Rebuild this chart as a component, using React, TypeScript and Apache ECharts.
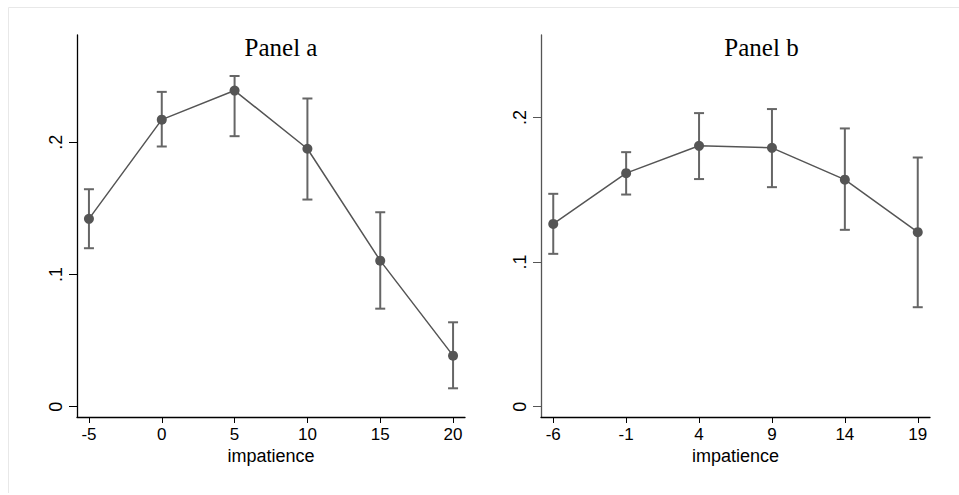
import React, { useEffect, useRef } from "react";
import * as echarts from "echarts";

// Panel a data
const xA = [-5, 0, 5, 10, 15, 20];
const meanA = [0.142, 0.217, 0.239, 0.195, 0.1104, 0.0386];
const loA = [0.1198, 0.1967, 0.2045, 0.1566, 0.0741, 0.0139];
const hiA = [0.1644, 0.238, 0.25, 0.233, 0.147, 0.0638];

// Panel b data
const xB = [-6, -1, 4, 9, 14, 19];
const meanB = [0.1264, 0.1615, 0.1804, 0.179, 0.157, 0.1207];
const loB = [0.1057, 0.1467, 0.1574, 0.1518, 0.1223, 0.0688];
const hiB = [0.1472, 0.176, 0.203, 0.2058, 0.1924, 0.1723];

const yTicks = [0, 0.1, 0.2];
const titles = ["Panel a", "Panel b"];
const xName = "impatience";

const LINE = "#555555";
const ERR = "#666666";
const SANS = "Liberation Sans";

function errRender(params: any, api: any) {
  const x = api.value(0);
  const lo = api.coord([x, api.value(1)]);
  const hi = api.coord([x, api.value(2)]);
  const w = 5;
  const style = { stroke: ERR, lineWidth: 2, fill: "none" };
  return {
    type: "group",
    children: [
      { type: "line", shape: { x1: lo[0], y1: lo[1], x2: hi[0], y2: hi[1] }, style },
      { type: "line", shape: { x1: hi[0] - w, y1: hi[1], x2: hi[0] + w, y2: hi[1] }, style },
      { type: "line", shape: { x1: lo[0] - w, y1: lo[1], x2: lo[0] + w, y2: lo[1] }, style },
    ],
  };
}

const fmtY = (v: number) => (v === 0 ? "0" : String(Math.round(v * 10) / 10).replace(/^0/, ""));

function xAxisCfg(gridIndex: number, ticks: number[], min: number, max: number) {
  return {
    type: "value",
    gridIndex,
    min,
    max,
    name: xName,
    nameLocation: "middle",
    nameGap: 30,
    nameMoveOverlap: false,
    nameTextStyle: { fontFamily: SANS, fontSize: 18, color: "#000" },
    axisLine: { show: true, onZero: false, lineStyle: { color: "#000", width: 1.3 } },
    axisTick: { show: true, length: 6, customValues: ticks, lineStyle: { color: "#000", width: 1 } },
    axisLabel: { customValues: ticks, margin: 9, fontFamily: SANS, fontSize: 17, color: "#000" },
    splitLine: { show: false },
  };
}

function yAxisCfg(gridIndex: number, min: number, max: number, color: string) {
  return {
    type: "value",
    gridIndex,
    min,
    max,
    axisLine: { show: true, onZero: false, lineStyle: { color, width: 1.3 } },
    axisTick: { show: true, length: 8, customValues: yTicks, lineStyle: { color, width: 1 } },
    axisLabel: {
      customValues: yTicks,
      rotate: 90,
      margin: 12,
      formatter: fmtY,
      fontFamily: SANS,
      fontSize: 18,
      color: "#000",
    },
    splitLine: { show: false },
  };
}

function titleEl(text: string, x: number) {
  return {
    type: "text",
    x,
    y: 47,
    style: {
      text,
      fontFamily: "Liberation Serif",
      fontSize: 25,
      fontWeight: "normal",
      fill: "#000",
      textAlign: "center",
      textVerticalAlign: "middle",
    },
  };
}

export default function App() {
  const ref = useRef<HTMLDivElement>(null);
  useEffect(() => {
    if (!ref.current) return;
    const chart = echarts.init(ref.current, undefined, { renderer: "svg" });
    const lineData = (xs: number[], ys: number[]) => xs.map((x, i) => [x, ys[i]]);
    const errData = (xs: number[], lo: number[], hi: number[]) => xs.map((x, i) => [x, lo[i], hi[i]]);
    chart.setOption({
      animation: false,
      backgroundColor: "#fff",
      grid: [
        { left: 77, top: 35, width: 388, height: 382 },
        { left: 541, top: 35, width: 389, height: 382 },
      ],
      xAxis: [xAxisCfg(0, xA, -5.82, 20.82), xAxisCfg(1, xB, -6.84, 19.84)],
      yAxis: [yAxisCfg(0, -0.0078, 0.281, "#000"), yAxisCfg(1, -0.0071, 0.257, "#555")],
      graphic: [
        { type: "line", shape: { x1: 8.5, y1: 7.5, x2: 959, y2: 7.5 }, style: { stroke: "#e8e8e8", lineWidth: 1 } },
        { type: "line", shape: { x1: 8.5, y1: 7.5, x2: 8.5, y2: 493 }, style: { stroke: "#e8e8e8", lineWidth: 1 } },
        titleEl(titles[0], 281),
        titleEl(titles[1], 761.5),
      ],
      series: [
        {
          type: "custom",
          xAxisIndex: 0,
          yAxisIndex: 0,
          renderItem: errRender,
          data: errData(xA, loA, hiA),
          z: 1,
        },
        {
          type: "line",
          xAxisIndex: 0,
          yAxisIndex: 0,
          data: lineData(xA, meanA),
          symbol: "circle",
          symbolSize: 10,
          lineStyle: { color: LINE, width: 1.5 },
          itemStyle: { color: LINE },
          z: 2,
        },
        {
          type: "custom",
          xAxisIndex: 1,
          yAxisIndex: 1,
          renderItem: errRender,
          data: errData(xB, loB, hiB),
          z: 1,
        },
        {
          type: "line",
          xAxisIndex: 1,
          yAxisIndex: 1,
          data: lineData(xB, meanB),
          symbol: "circle",
          symbolSize: 10,
          lineStyle: { color: LINE, width: 1.5 },
          itemStyle: { color: LINE },
          z: 2,
        },
      ],
    });
    return () => chart.dispose();
  }, []);
  return (
    <div
      ref={ref}
      style={{ position: "absolute", left: 0, top: 0, width: 959, height: 495 }}
    />
  );
}
